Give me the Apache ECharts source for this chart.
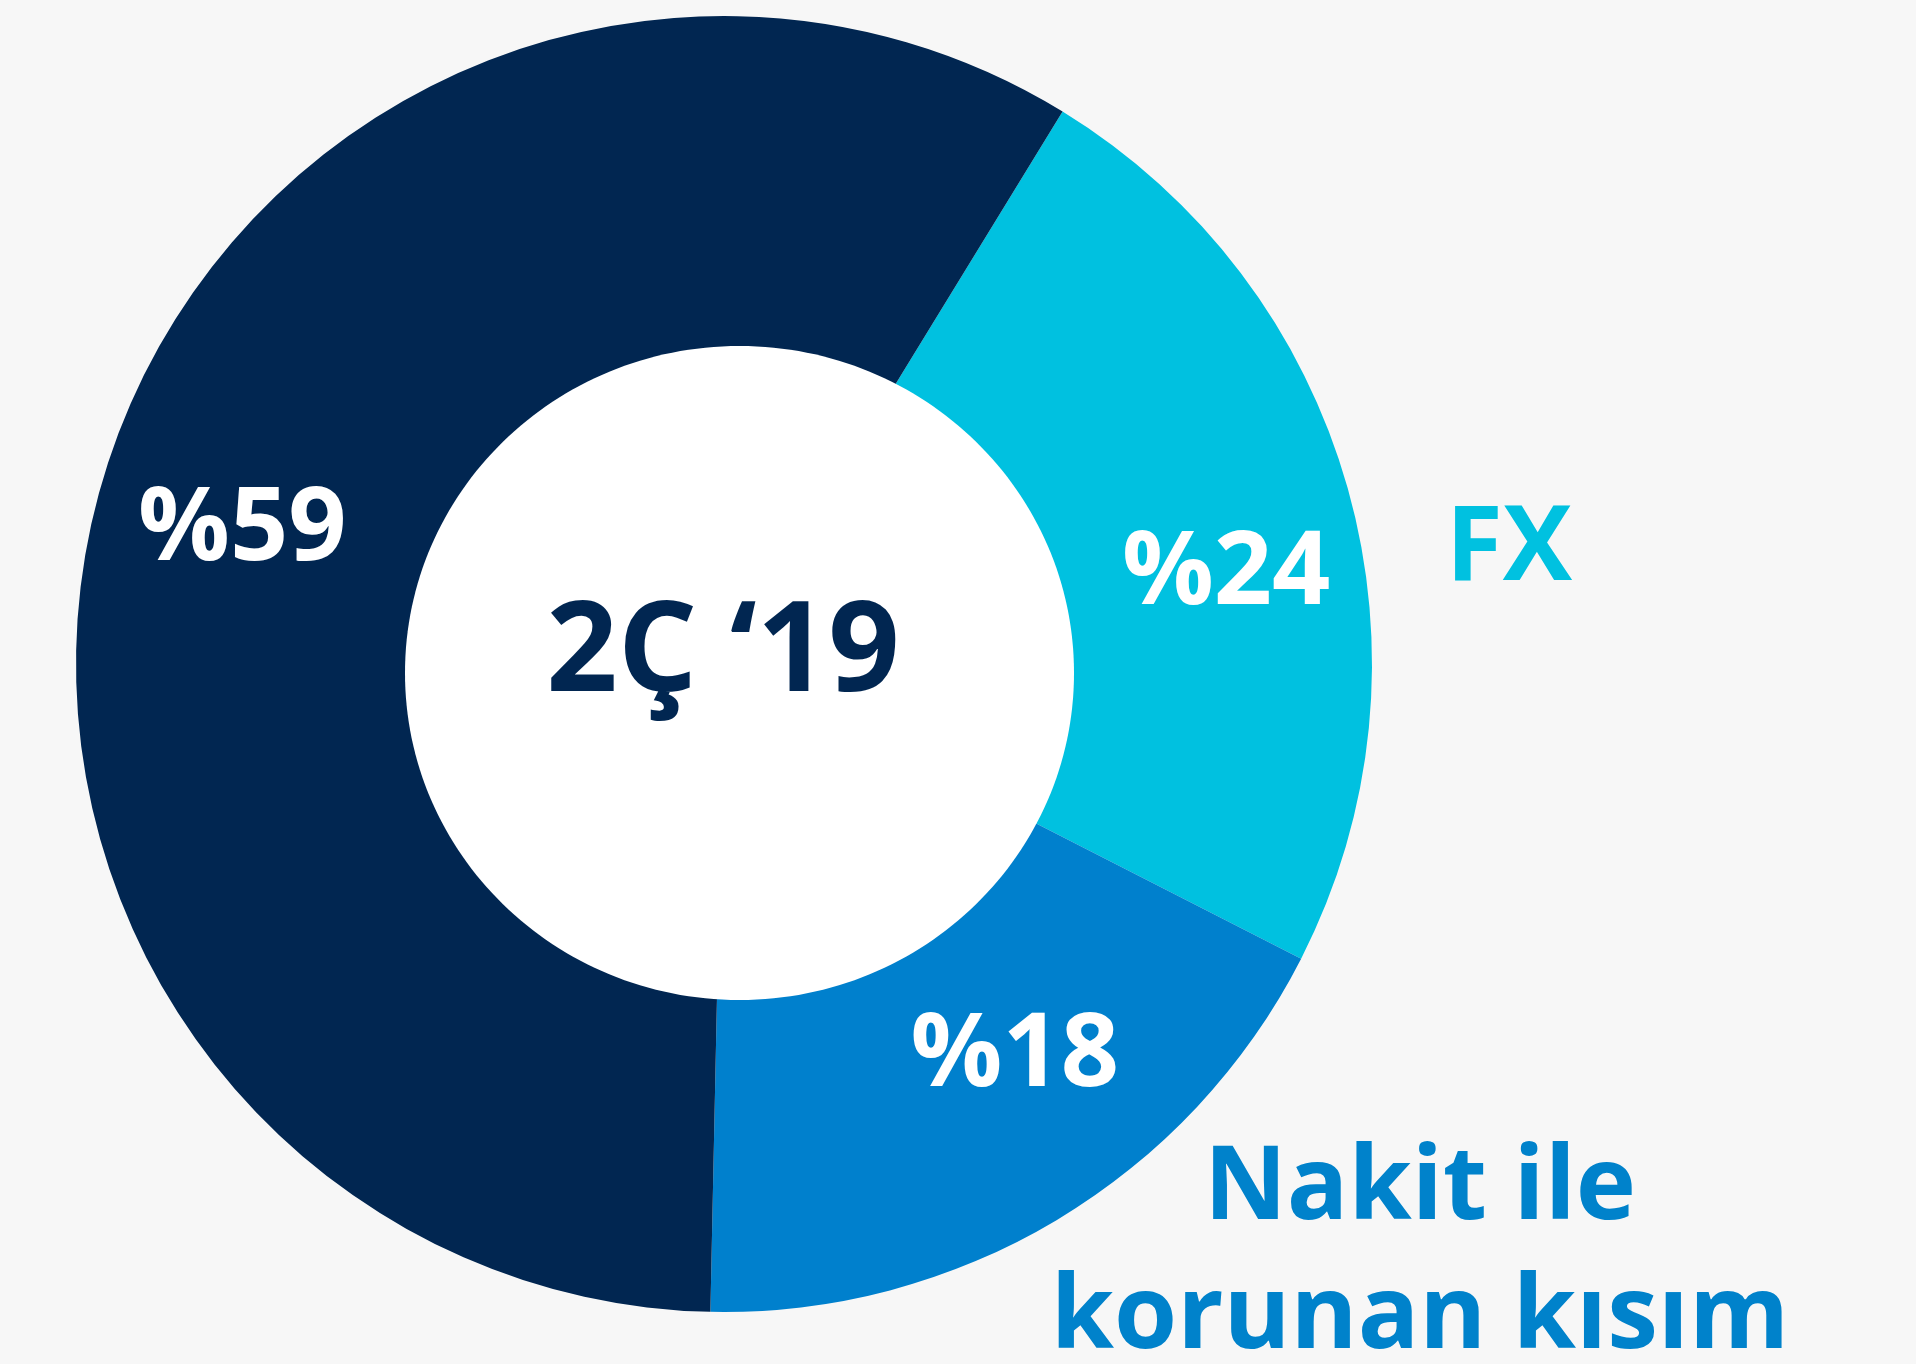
<!DOCTYPE html>
<html>
<head>
<meta charset="utf-8">
<script src="https://cdn.jsdelivr.net/npm/echarts@6/dist/echarts.min.js"></script>
<style>
    html, body { margin: 0; padding: 0; background: #f7f7f7; }
    #pie_gram { width: 1916px; height: 1364px; }
</style>
</head>
<body>
<div id="pie_gram"></div>
<script>
// data (percent of total)
var sliceNames = ['FX', 'Nakit ile korunan kısım', 'Diğer'];
var sliceValues = [24, 18, 59];
var centerText = '2Ç \u201819';
var fxText = 'FX';
var cashText = 'Nakit ile\nkorunan kısım';

var eChart = echarts.init(document.getElementById('pie_gram'));

var pieData = [];
for (var i = 0; i < sliceNames.length; i++) {
    pieData.push({name: sliceNames[i], value: sliceValues[i]});
}

// label nudges so the numbers sit where the original put them
var labelShift = [[43, 40], [46, -16], [-24, 1]];

var option = {
    backgroundColor: '#f7f7f7',
    color: ['#00c1e0', '#0080cd', '#012651'],
    animation: false,
    series: [
        {
            name: 'oran',
            type: 'pie',
            center: [724, 664],
            radius: [300, 648],
            startAngle: 58.5,
            clockwise: true,
            silent: true,
            data: pieData,
            itemStyle: {borderWidth: 0},
            label: {
                show: true,
                position: 'inside',
                formatter: '%{c}',
                color: '#ffffff',
                fontFamily: 'Open Sans',
                fontWeight: 'bold',
                fontSize: 102
            },
            labelLine: {show: false},
            labelLayout: function (params) {
                var s = labelShift[params.dataIndex];
                return {dx: s[0], dy: s[1]};
            }
        }
    ],
    graphic: [
        {
            // white hole, sits a little off centre like the original
            type: 'ellipse',
            z: 100,
            silent: true,
            shape: {cx: 739.5, cy: 673, rx: 334.5, ry: 327},
            style: {fill: '#ffffff'}
        },
        {
            type: 'text',
            z: 101,
            x: 723,
            y: 655,
            style: {
                text: centerText,
                fill: '#012651',
                font: 'bold 125px "Open Sans"',
                textAlign: 'center',
                textVerticalAlign: 'middle'
            }
        },
        {
            type: 'text',
            z: 101,
            x: 1509,
            y: 550,
            style: {
                text: fxText,
                fill: '#00c1e0',
                font: 'bold 104px "Open Sans"',
                textAlign: 'center',
                textVerticalAlign: 'middle'
            }
        },
        {
            type: 'text',
            z: 101,
            x: 1420,
            y: 1254,
            style: {
                text: cashText,
                fill: '#0082cb',
                font: 'bold 102px "Open Sans"',
                lineHeight: 129,
                textAlign: 'center',
                textVerticalAlign: 'middle'
            }
        }
    ]
};

eChart.setOption(option, true);
</script>
</body>
</html>
